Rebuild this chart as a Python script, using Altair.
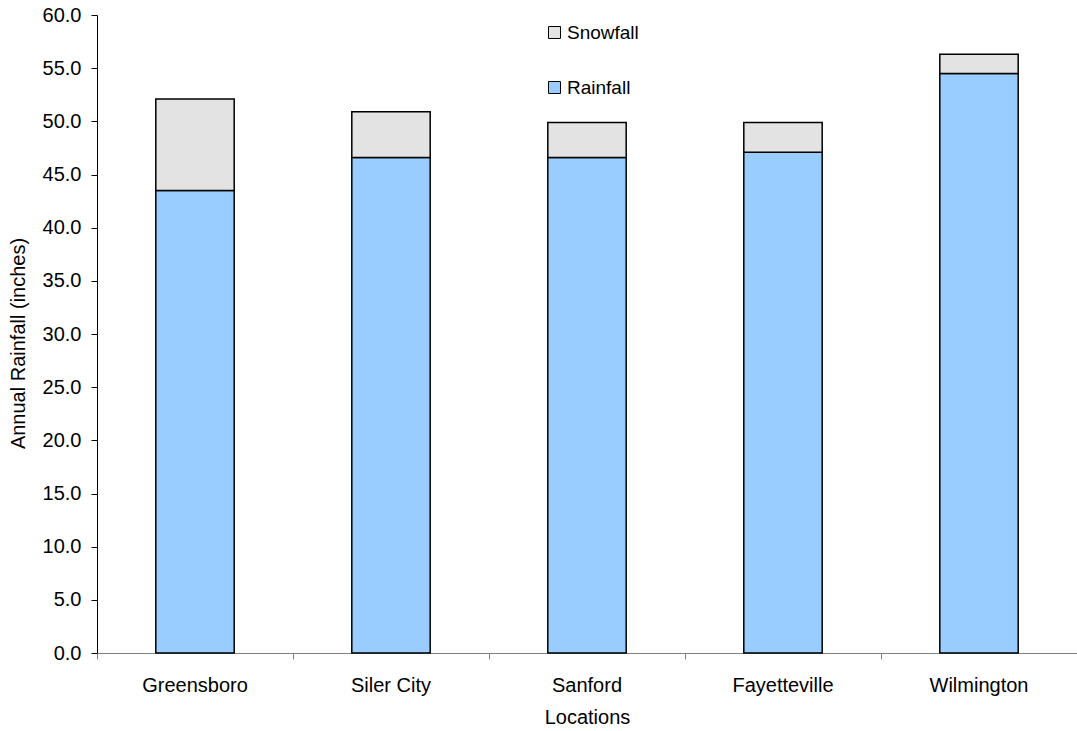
import altair as alt
import pandas as pd

locations = ["Greensboro", "Siler City", "Sanford", "Fayetteville", "Wilmington"]
rainfall = [43.5, 46.6, 46.6, 47.1, 54.5]
snowfall = [8.6, 4.3, 3.3, 2.8, 1.8]

rows = []
for loc, r, s in zip(locations, rainfall, snowfall):
    rows.append({"Location": loc, "Type": "Rainfall", "Value": r, "ord": 1})
    rows.append({"Location": loc, "Type": "Snowfall", "Value": s, "ord": 2})
df = pd.DataFrame(rows)

FONT = "Liberation Sans"

chart = (
    alt.Chart(df)
    .mark_bar(stroke="black", strokeWidth=1.5, width=alt.RelativeBandSize(0.4))
    .encode(
        x=alt.X(
            "Location:N",
            sort=locations,
            scale=alt.Scale(paddingInner=0, paddingOuter=0),
            axis=alt.Axis(
                title="Locations",
                labelAngle=0,
                bandPosition=0,
                tickSize=6,
                tickColor="#808080",
                domainColor="#808080",
                labelPadding=16,
                titlePadding=12,
            ),
        ),
        y=alt.Y(
            "Value:Q",
            stack="zero",
            scale=alt.Scale(domain=[0, 60], nice=False),
            axis=alt.Axis(
                title="Annual Rainfall (inches)",
                values=[0, 5, 10, 15, 20, 25, 30, 35, 40, 45, 50, 55, 60],
                format=".1f",
                grid=False,
                tickSize=6,
                tickColor="black",
                domainColor="black",
                labelPadding=10,
                titleX=-79,
                titleY=328,
                titleBaseline="middle",
                titleAngle=270,
            ),
        ),
        color=alt.Color(
            "Type:N",
            scale=alt.Scale(domain=["Snowfall", "Rainfall"], range=["#e3e3e3", "#99ccff"]),
            legend=alt.Legend(
                title=None,
                orient="none",
                legendX=448,
                legendY=8,
                symbolType="square",
                symbolSize=144,
                symbolStrokeColor="black",
                symbolStrokeWidth=1,
                labelFontSize=19,
                labelFont=FONT,
                labelColor="black",
                labelOffset=3,
                rowPadding=35,
                padding=0,
            ),
        ),
        order=alt.Order("ord:Q"),
    )
    .properties(
        width=980,
        height=638,
        autosize=alt.AutoSizeParams(type="none"),
        padding={"left": 97, "top": 15, "right": 0, "bottom": 78},
    )
    .configure(background="white")
    .configure_view(stroke=None)
    .configure_axis(
        labelFont=FONT,
        titleFont=FONT,
        labelFontSize=20,
        titleFontSize=20,
        titleFontWeight="normal",
        labelColor="black",
        titleColor="black",
    )
)

chart.save("out.html", embed_options={"renderer": "svg", "actions": False})
